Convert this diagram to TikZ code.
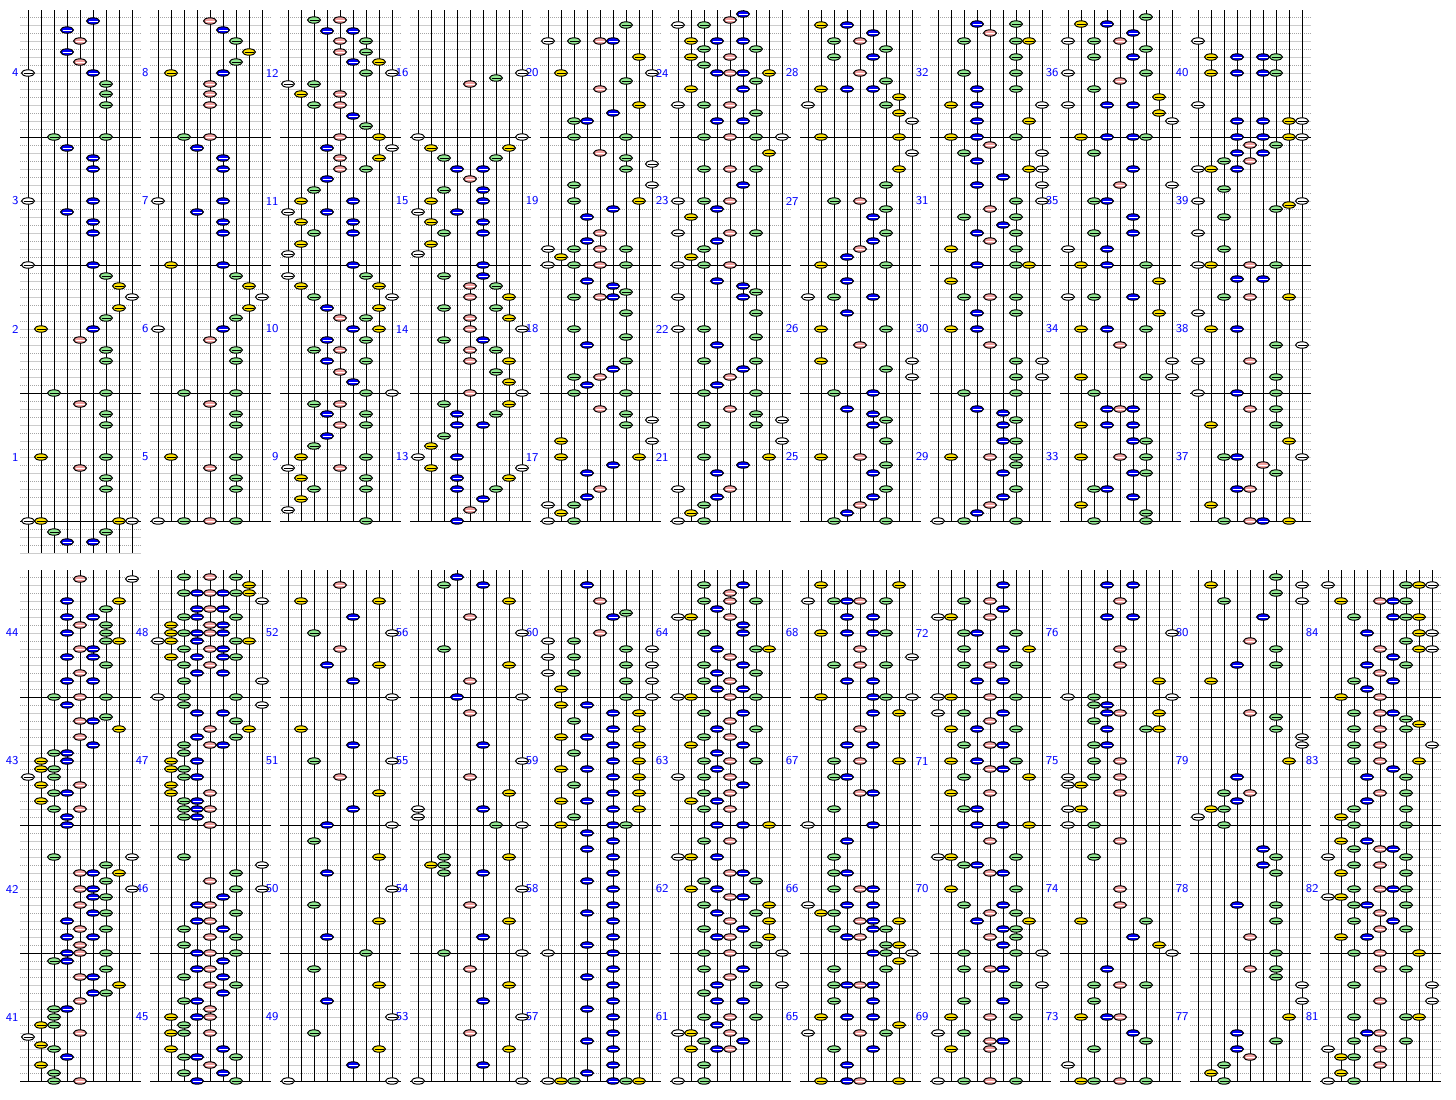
\documentclass[tikz,border=0pt]{standalone}
\usepackage{tikz}

\definecolor{nw}{RGB}{255,255,255}
\definecolor{ny}{RGB}{255,228,0}
\definecolor{ng}{RGB}{144,232,144}
\definecolor{np}{RGB}{244,160,160}
\definecolor{nb}{RGB}{0,0,255}
\definecolor{sw}{RGB}{0,0,0}
\definecolor{sy}{RGB}{0,0,0}
\definecolor{sg}{RGB}{0,0,0}
\definecolor{sp}{RGB}{255,255,255}
\definecolor{sb}{RGB}{255,255,255}

\tikzset{
  lane/.style={line width=0.5pt},
  beat/.style={gray!40, line width=0.5pt},
  half/.style={gray!70, line width=0.5pt, dash pattern=on 0.5pt off 0.5pt},
  bar/.style={line width=0.5pt},
  num/.style={text=blue, font=\sffamily\fontsize{6}{6}\selectfont, anchor=east, inner sep=0pt}
}

\newcommand{\hnote}[3]{
  \filldraw[fill=n#3, line width=0.5pt] (#1,#2) ellipse (6.5 and 3.2);
  \draw[s#3, line width=0.5pt] (#1-4.5,#2) -- (#1+4.5,#2);
}
\newcommand{\notes}[2]{
  \foreach \k/\y/\c in {#2} {\hnote{#1+8+13*\k}{\y}{\c}}
}
\newcommand{\staff}[3]{
  \foreach \j in {1,3,...,63} \draw[half] (#1,#2+8*\j) -- (#1+121,#2+8*\j);
  \foreach \j in {2,4,...,64} \draw[beat] (#1,#2+8*\j) -- (#1+121,#2+8*\j);
  \foreach \j in {16,32,48,64} \draw[bar] (#1,#2+8*\j) -- (#1+121,#2+8*\j);
  \foreach \k in {0,...,8} \draw[lane] (#1+8+13*\k,#2+1) -- (#1+8+13*\k,#3);
}

\begin{document}
\begin{tikzpicture}[x=0.5pt,y=-0.5pt]
\useasboundingbox (0,0) rectangle (1456,1099);

\foreach \c in {0,...,9} {
  \pgfmathsetmacro\xa{20+130*\c}
  \staff{\xa}{9}{521}
  \foreach \m in {1,...,4} {
    \pgfmathtruncatemacro\n{4*\c+\m}
    \node[num] (m\n) at (\xa-1,585-128*\m) {\n};
  }
}
\draw[half] (20,529) -- (141,529);
\draw[beat] (20,537) -- (141,537);
\draw[half] (20,545) -- (141,545);
\draw[beat] (20,553) -- (141,553);
\foreach \k in {0,...,8} \draw[lane] (28+13*\k,521) -- (28+13*\k,553);

\foreach \c in {0,...,10} {
  \pgfmathsetmacro\xa{20+130*\c}
  \staff{\xa}{569}{1081}
  \foreach \m in {1,...,4} {
    \pgfmathtruncatemacro\n{40+4*\c+\m}
    \node[num] (m\n) at (\xa-1,1145-128*\m) {\n};
  }
}

\notes{20}{5/21/b, 3/30/b, 4/41/p, 3/52/b, 4/62/p, 0/73/w, 5/73/b, 6/84/g, 6/94/g, 6/105/g,
  2/137/g, 6/137/g, 3/148/b, 5/158/b, 5/169/b, 0/201/w, 5/201/b, 3/212/b, 5/222/b, 5/233/b,
  0/265/w, 5/265/b, 6/276/g, 7/286/y, 8/297/w, 7/308/y, 6/318/g, 1/329/y, 5/329/b, 4/340/p,
  6/350/g, 6/361/g, 2/393/g, 6/393/g, 4/404/p, 6/414/g, 6/425/g, 1/457/y, 6/457/g, 4/468/p,
  6/478/g, 6/489/g, 0/521/w, 1/521/y, 7/521/y, 8/521/w, 2/532/g, 6/532/g, 3/542/b, 5/542/b}

\notes{150}{4/21/p, 5/30/b, 6/41/g, 7/52/y, 6/62/g, 1/73/y, 5/73/b, 4/84/p, 4/94/p, 4/105/p,
  2/137/g, 4/137/p, 3/148/b, 5/158/b, 5/169/b, 0/201/w, 5/201/b, 3/212/b, 5/222/b, 5/233/b,
  1/265/y, 5/265/b, 6/276/g, 7/286/y, 8/297/w, 7/308/y, 6/318/g, 0/329/w, 5/329/b, 4/340/p,
  6/350/g, 6/361/g, 2/393/g, 6/393/g, 4/404/p, 6/414/g, 6/425/g, 1/457/y, 6/457/g, 4/468/p,
  6/478/g, 6/489/g, 0/521/w, 2/521/g, 4/521/p, 6/521/g}

\notes{280}{2/20/g, 4/20/p, 3/31/b, 5/31/b, 4/41/p, 6/41/g, 4/52/p, 6/52/g, 5/62/b, 7/62/y,
  6/73/g, 8/73/w, 0/84/w, 2/84/g, 1/94/y, 4/94/p, 2/105/g, 4/105/p, 5/116/b, 6/126/g,
  4/137/p, 7/137/y, 8/148/w, 3/148/b, 4/158/p, 7/158/y, 4/169/p, 6/169/g, 3/179/b, 2/190/g,
  1/201/y, 5/201/b, 0/212/w, 3/212/b, 1/222/y, 5/222/b, 2/233/g, 5/233/b, 1/244/y, 0/254/w,
  5/265/b, 0/276/w, 6/276/g, 1/286/y, 7/286/y, 2/297/g, 8/297/w, 3/308/b, 7/308/y, 4/318/p,
  6/318/g, 5/329/b, 7/329/y, 3/340/b, 6/340/g, 2/350/g, 4/350/p, 3/361/b, 6/361/g, 4/372/p,
  5/382/b, 6/393/g, 8/393/w, 2/404/g, 4/404/p, 3/414/b, 6/414/g, 4/425/p, 6/425/g, 3/436/b,
  2/446/g, 1/457/y, 6/457/g, 0/468/w, 4/468/p, 1/478/y, 6/478/g, 2/489/g, 6/489/g, 1/499/y,
  0/510/w, 6/521/g}

\notes{410}{6/78/g, 8/73/w, 4/84/p, 0/137/w, 8/137/w, 1/148/y, 7/148/y, 2/158/g, 6/158/g, 3/169/b,
  5/169/b, 4/179/p, 2/190/g, 5/190/b, 1/201/y, 5/201/b, 0/212/w, 3/212/b, 1/222/y, 5/222/b,
  2/233/g, 5/233/b, 1/244/y, 0/254/w, 5/265/b, 2/276/g, 5/276/b, 4/286/p, 6/286/g, 4/297/p,
  7/297/y, 2/308/g, 6/308/g, 4/318/p, 7/318/y, 4/329/p, 8/329/w, 2/340/g, 5/340/b, 4/350/p,
  6/350/g, 4/361/p, 7/361/y, 6/372/g, 7/382/y, 4/393/p, 8/393/w, 2/404/g, 7/404/y, 3/414/b,
  6/414/g, 3/425/b, 5/425/b, 2/436/g, 1/446/y, 0/457/w, 3/457/b, 1/468/y, 8/468/w, 3/478/b,
  7/478/y, 3/489/b, 6/489/g, 5/499/b, 4/510/p, 3/521/b}

\notes{540}{6/25/g, 0/41/w, 2/41/g, 4/41/p, 5/41/b, 7/57/y, 1/73/y, 8/73/w, 6/81/g, 4/89/p,
  7/105/y, 5/113/b, 2/121/g, 3/121/b, 2/137/g, 6/137/g, 4/153/p, 6/158/g, 8/164/w, 6/169/g,
  2/185/g, 8/185/w, 2/201/g, 7/201/y, 5/209/b, 3/217/b, 4/233/p, 3/241/b, 0/249/w, 2/249/g,
  4/249/p, 6/249/g, 1/257/y, 0/265/w, 2/265/g, 4/265/p, 6/265/g, 3/281/b, 5/286/b, 6/292/g,
  2/297/g, 4/297/p, 5/297/b, 6/313/g, 2/329/g, 6/337/g, 3/345/b, 6/361/g, 5/369/b, 2/377/g,
  4/377/p, 3/385/b, 2/393/g, 6/393/g, 4/409/p, 6/414/g, 8/420/w, 6/425/g, 1/441/y, 8/441/w,
  1/457/y, 7/457/y, 5/465/b, 3/473/b, 4/489/p, 3/497/b, 0/505/w, 2/505/g, 1/513/y, 0/521/w,
  2/521/g}

\notes{670}{5/14/b, 4/20/p, 0/25/w, 2/25/g, 1/41/y, 3/41/b, 5/41/b, 2/49/g, 6/49/g, 1/57/y,
  4/57/p, 2/65/g, 3/73/b, 4/73/p, 5/73/b, 7/73/y, 6/81/g, 1/89/y, 5/89/b, 0/105/w,
  2/105/g, 4/105/p, 6/113/g, 3/121/b, 5/121/b, 2/137/g, 4/137/p, 6/137/g, 8/137/w, 7/153/y,
  2/169/g, 4/169/p, 6/169/g, 5/185/b, 0/201/w, 2/201/g, 4/201/p, 3/209/b, 1/217/y, 0/233/w,
  4/233/p, 6/233/g, 3/241/b, 2/249/g, 1/257/y, 0/265/w, 2/265/g, 4/265/p, 3/281/b, 5/286/b,
  6/292/g, 0/297/w, 5/297/b, 6/313/g, 0/329/w, 2/329/g, 6/337/g, 3/345/b, 2/361/g, 6/361/g,
  5/369/b, 4/377/p, 3/385/b, 2/393/g, 6/393/g, 4/409/p, 6/414/g, 8/420/w, 2/425/g, 6/425/g,
  8/441/w, 2/457/g, 7/457/y, 5/465/b, 3/473/b, 0/489/w, 4/489/p, 3/497/b, 2/505/g, 1/513/y,
  0/521/w, 2/521/g}

\notes{800}{1/25/y, 3/25/b, 5/33/b, 2/41/g, 4/41/p, 6/49/g, 2/57/g, 5/57/b, 4/73/p, 6/81/g,
  1/89/y, 3/89/b, 5/89/b, 7/97/y, 0/105/w, 6/105/g, 7/113/y, 8/121/w, 1/137/y, 7/137/y,
  8/153/w, 7/169/y, 6/185/g, 2/201/g, 4/201/p, 6/209/g, 5/217/b, 6/233/g, 5/241/b, 4/249/p,
  3/257/b, 1/265/y, 6/265/g, 3/281/b, 0/297/w, 2/297/g, 5/297/b, 3/313/b, 1/329/y, 6/329/g,
  4/345/p, 1/361/y, 8/361/w, 6/369/g, 8/377/w, 2/393/g, 5/393/b, 3/409/b, 5/414/b, 6/420/g,
  5/425/b, 6/441/g, 1/457/y, 4/457/p, 6/465/g, 5/473/b, 6/489/g, 5/497/b, 4/505/p, 3/513/b,
  2/521/g, 6/521/g}

\notes{930}{3/24/b, 6/24/g, 4/33/p, 2/41/g, 6/41/g, 7/41/y, 6/57/g, 2/73/g, 6/73/g, 3/89/b,
  6/89/g, 1/105/y, 3/105/b, 8/105/w, 3/121/b, 7/121/y, 1/137/y, 3/137/b, 6/137/g, 4/145/p,
  2/153/g, 8/153/w, 3/161/b, 7/169/y, 8/169/w, 5/177/b, 3/185/b, 8/185/w, 6/201/g, 8/201/w,
  4/209/p, 2/217/g, 6/217/g, 5/225/b, 3/233/b, 6/233/g, 4/241/p, 1/249/y, 6/249/g, 3/265/b,
  6/265/g, 7/265/y, 1/281/y, 2/297/g, 4/297/p, 6/297/g, 3/313/b, 6/313/g, 1/329/y, 3/329/b,
  4/345/p, 6/361/g, 8/361/w, 6/377/g, 8/377/w, 2/393/g, 6/393/g, 3/409/b, 5/413/b, 6/420/g,
  5/425/b, 5/441/b, 6/441/g, 1/457/y, 4/457/p, 6/457/g, 6/465/g, 5/473/b, 6/489/g, 5/497/b,
  4/505/p, 3/513/b, 0/521/w, 2/521/g, 6/521/g}

\notes{1060}{6/17/g, 1/24/y, 3/24/b, 5/33/b, 0/41/w, 2/41/g, 4/41/p, 6/49/g, 2/57/g, 5/57/b,
  0/73/w, 6/73/g, 4/81/p, 2/89/g, 7/97/y, 0/105/w, 3/105/b, 5/105/b, 7/113/y, 8/121/w,
  1/137/y, 3/137/b, 5/137/b, 6/137/g, 2/153/g, 5/169/b, 4/185/p, 8/185/w, 2/201/g, 3/201/b,
  5/217/b, 2/233/g, 5/233/b, 0/249/w, 3/249/b, 1/265/y, 3/265/b, 6/265/g, 7/281/y, 0/297/w,
  2/297/g, 5/297/b, 7/313/y, 1/329/y, 3/329/b, 6/329/g, 4/345/p, 8/361/w, 1/377/y, 6/377/g,
  8/377/w, 2/393/g, 3/409/b, 4/409/p, 5/409/b, 1/425/y, 3/425/b, 5/425/b, 5/441/b, 6/441/g,
  1/457/y, 4/457/p, 6/457/g, 5/473/b, 6/473/g, 2/489/g, 3/489/b, 5/497/b, 1/505/y, 6/513/g,
  2/521/g, 6/521/g}

\notes{1190}{0/41/w, 1/57/y, 3/57/b, 5/57/b, 6/57/g, 1/73/y, 3/73/b, 5/73/b, 6/73/g, 0/105/w,
  3/121/b, 5/121/b, 7/121/y, 8/121/w, 3/137/b, 5/137/b, 7/137/y, 8/137/w, 4/145/p, 6/145/g,
  3/153/b, 5/153/b, 2/161/g, 4/161/p, 0/169/w, 1/169/y, 3/169/b, 2/189/g, 0/201/w, 8/201/w,
  7/205/y, 6/209/g, 2/217/g, 0/233/w, 2/249/g, 0/265/w, 1/265/y, 4/265/p, 6/265/g, 3/279/b,
  5/279/b, 2/297/g, 4/297/p, 7/297/y, 0/313/w, 1/329/y, 3/329/b, 6/345/g, 8/345/w, 0/361/w,
  4/361/p, 6/377/g, 0/393/w, 3/393/b, 6/393/g, 4/409/p, 6/409/g, 1/425/y, 6/425/g, 7/441/y,
  2/457/g, 3/457/b, 8/457/w, 5/465/p, 6/473/g, 3/489/b, 4/489/p, 1/505/y, 2/521/g, 4/521/p,
  5/521/b, 7/521/y}

\notes{20}{4/579/p, 8/579/w, 3/601/b, 7/601/y, 6/609/g, 3/617/b, 5/617/b, 4/625/p, 6/625/g, 3/633/b,
  6/633/g, 6/641/g, 7/641/y, 4/649/p, 5/649/b, 3/657/b, 5/657/b, 6/665/g, 4/673/p, 3/681/b,
  5/681/b, 2/697/g, 4/697/p, 6/697/g, 3/705/b, 6/717/g, 4/721/p, 5/721/b, 7/729/y, 4/737/p,
  5/745/b, 2/753/g, 3/753/b, 1/761/y, 3/761/b, 0/777/w, 1/769/y, 2/769/g, 2/777/g, 1/785/y,
  4/785/p, 2/793/g, 3/793/b, 1/801/y, 2/809/g, 4/809/p, 3/817/b, 3/825/b, 2/857/g, 8/857/w,
  6/865/g, 4/873/p, 5/873/b, 7/873/y, 6/881/g, 4/889/p, 5/889/b, 8/889/w, 5/897/b, 6/897/g,
  4/905/p, 5/913/b, 6/913/g, 3/921/b, 4/929/p, 6/929/g, 3/937/b, 5/937/b, 4/945/p, 3/953/b,
  4/953/p, 6/953/g, 2/961/g, 3/961/b, 6/969/g, 4/977/p, 5/977/b, 7/985/y, 5/993/b, 6/993/g,
  4/1001/p, 2/1009/g, 3/1009/b, 2/1017/g, 1/1025/y, 2/1025/g, 4/1033/p, 0/1037/w, 1/1045/y, 2/1049/g,
  3/1057/b, 1/1065/y, 2/1073/g, 2/1081/g, 4/1081/p}

\notes{150}{2/577/g, 4/577/p, 6/577/g, 7/585/y, 2/593/g, 3/593/b, 4/593/p, 5/593/b, 6/593/g, 7/593/y,
  8/601/w, 3/609/b, 4/609/p, 5/609/b, 2/617/g, 3/617/b, 6/617/g, 1/625/y, 4/625/p, 5/625/b,
  1/633/y, 2/633/g, 3/633/b, 4/633/p, 5/633/b, 0/641/w, 1/641/y, 3/641/b, 6/641/g, 7/641/y,
  2/649/g, 4/649/p, 5/649/b, 1/657/y, 3/657/b, 5/657/b, 6/657/g, 2/665/g, 4/665/p, 3/673/b,
  5/673/b, 2/681/g, 8/681/w, 0/697/w, 2/697/g, 6/697/g, 2/705/g, 8/705/w, 3/713/b, 5/713/b,
  6/721/g, 4/729/p, 7/729/y, 3/737/b, 6/737/g, 2/745/g, 4/745/p, 5/745/b, 2/753/g, 1/761/y,
  3/761/b, 1/769/y, 2/769/g, 2/777/g, 3/777/b, 1/785/y, 1/793/y, 4/793/p, 2/801/g, 3/801/b,
  2/809/g, 3/809/b, 4/809/p, 2/817/g, 3/817/b, 4/825/p, 2/857/g, 8/865/w, 6/873/g, 4/881/p,
  6/889/g, 8/889/w, 5/897/b, 3/905/b, 4/905/p, 6/913/g, 3/921/b, 4/921/p, 2/929/g, 5/929/b,
  4/937/p, 6/937/g, 2/945/g, 3/953/b, 4/953/p, 6/953/g, 5/961/b, 3/969/b, 4/969/p, 2/977/g,
  5/977/b, 4/985/p, 6/985/g, 5/993/b, 2/1001/g, 3/1001/b, 4/1009/p, 1/1017/y, 3/1017/b, 4/1017/p,
  2/1025/g, 1/1033/y, 2/1033/g, 4/1033/p, 1/1049/y, 5/1049/b, 2/1057/g, 3/1057/b, 6/1057/g, 4/1065/p,
  2/1073/g, 5/1073/b, 3/1081/b, 6/1081/g}

\notes{280}{4/585/p, 1/601/y, 7/601/y, 5/617/b, 2/633/g, 8/633/w, 4/649/p, 3/665/b, 7/665/y, 5/681/b,
  8/697/w, 1/729/y, 5/745/b, 2/761/g, 8/761/w, 4/777/p, 7/793/y, 5/809/b, 3/825/b, 8/825/w,
  2/841/g, 7/857/y, 3/873/b, 8/889/w, 2/905/g, 7/921/y, 3/937/b, 6/953/g, 2/969/g, 7/985/y,
  3/1001/b, 8/1017/w, 2/1033/g, 7/1049/y, 5/1065/b, 0/1081/w, 8/1081/w}

\notes{410}{3/577/b, 2/585/g, 5/585/b, 7/601/y, 4/617/p, 8/633/w, 2/649/g, 7/665/y, 4/681/p, 3/697/b,
  8/697/w, 4/713/p, 5/745/b, 8/761/w, 4/777/p, 7/793/y, 0/809/w, 5/809/b, 0/817/w, 6/825/g,
  8/825/w, 2/857/g, 7/857/y, 1/865/y, 2/865/g, 2/873/g, 5/873/b, 8/889/w, 4/905/p, 7/921/y,
  5/937/b, 2/953/g, 8/953/w, 4/969/p, 7/985/y, 5/1001/b, 8/1017/w, 4/1033/p, 7/1049/y, 5/1065/b,
  0/1081/w, 8/1081/w}

\notes{540}{3/585/b, 4/601/p, 6/613/g, 5/617/b, 4/633/p, 0/641/w, 2/641/g, 6/649/g, 8/649/w, 0/657/w,
  2/657/g, 6/665/g, 8/665/w, 0/673/w, 2/673/g, 6/681/g, 8/681/w, 1/689/y, 6/697/g, 8/697/w,
  1/705/y, 3/705/b, 5/713/b, 7/713/y, 2/721/g, 5/729/b, 7/729/y, 1/737/y, 3/737/b, 5/745/b,
  7/745/y, 2/753/g, 5/761/b, 7/761/y, 1/769/y, 3/769/b, 5/777/b, 7/777/y, 2/785/g, 5/793/b,
  7/793/y, 1/801/y, 3/801/b, 5/809/b, 7/809/y, 2/817/g, 1/825/y, 5/825/b, 6/825/g, 3/833/b,
  5/841/b, 3/849/b, 5/857/b, 5/873/b, 3/881/b, 5/889/b, 5/905/b, 3/913/b, 5/921/b, 5/937/b,
  3/945/b, 0/953/w, 5/953/b, 5/969/b, 3/977/b, 5/985/b, 5/1001/b, 3/1009/b, 5/1017/b, 5/1033/b,
  3/1041/b, 5/1049/b, 5/1065/b, 3/1073/b, 0/1081/w, 1/1081/y, 2/1081/g, 5/1081/b, 6/1081/g, 7/1081/y}

\notes{670}{2/585/g, 5/585/b, 4/593/p, 2/601/g, 4/601/p, 6/601/g, 3/609/b, 0/617/w, 1/617/y, 4/617/p,
  5/625/b, 2/633/g, 5/633/b, 3/649/b, 6/649/g, 7/649/y, 4/657/p, 2/665/g, 5/665/b, 3/673/b,
  6/673/g, 2/681/g, 4/681/p, 3/689/b, 5/689/b, 0/697/w, 1/697/y, 4/697/p, 6/697/g, 2/713/g,
  5/713/b, 4/721/p, 3/729/b, 6/729/g, 2/737/g, 4/737/p, 1/745/y, 5/745/b, 3/753/b, 4/761/p,
  2/761/g, 6/761/g, 3/769/b, 0/777/w, 2/777/g, 4/777/p, 5/785/b, 2/793/g, 4/793/p, 1/801/y,
  3/801/b, 2/809/g, 4/809/p, 3/825/b, 5/825/b, 7/825/y, 2/841/g, 4/841/p, 0/857/w, 1/857/y,
  3/857/b, 4/873/p, 5/873/b, 2/881/g, 6/881/g, 1/889/y, 3/889/b, 4/897/p, 5/897/b, 2/905/g,
  7/905/y, 3/913/b, 6/913/g, 4/921/p, 7/921/y, 2/929/g, 5/929/b, 3/937/b, 4/937/p, 7/937/y,
  6/945/g, 2/953/g, 4/953/p, 8/953/w, 2/969/g, 5/969/b, 4/977/p, 3/985/b, 6/985/g, 8/985/w,
  2/993/g, 3/1001/b, 5/1001/b, 2/1017/g, 4/1017/p, 6/1017/g, 3/1025/b, 0/1033/w, 1/1033/y, 4/1033/p,
  2/1041/g, 5/1041/b, 1/1049/y, 3/1049/b, 4/1049/p, 2/1065/g, 0/1081/w, 2/1081/g}

\notes{800}{1/585/y, 7/585/y, 0/601/w, 2/601/g, 3/601/b, 4/601/p, 6/601/g, 3/617/b, 5/617/b, 1/633/y,
  3/633/b, 5/633/b, 6/633/g, 4/649/p, 8/657/w, 2/665/g, 4/665/p, 6/665/g, 3/681/b, 5/681/b,
  1/697/y, 5/697/b, 6/697/g, 8/697/w, 5/713/b, 7/713/y, 4/729/p, 3/745/b, 5/745/b, 2/761/g,
  4/761/p, 7/761/y, 2/777/g, 3/777/b, 4/793/p, 5/793/b, 2/809/g, 0/825/w, 5/825/b, 3/841/b,
  2/857/g, 2/873/g, 3/873/b, 2/889/g, 4/889/p, 5/889/b, 0/905/w, 3/905/b, 5/905/b, 1/913/y,
  2/913/g, 4/921/p, 5/921/b, 7/921/y, 2/929/g, 5/929/b, 6/929/g, 3/937/b, 4/937/p, 6/945/g,
  7/945/y, 5/953/b, 6/953/g, 8/953/w, 7/961/y, 2/969/g, 6/969/g, 2/985/g, 3/985/b, 4/985/p,
  5/985/b, 2/1001/g, 5/1001/b, 1/1017/y, 3/1017/b, 5/1017/b, 7/1025/y, 0/1033/w, 4/1033/p, 6/1033/g,
  2/1049/g, 5/1049/b, 3/1065/b, 1/1081/y, 3/1081/b, 4/1081/p, 7/1081/y}

\notes{930}{5/585/b, 2/601/g, 4/601/p, 5/609/b, 0/617/w, 1/617/y, 4/617/p, 2/633/g, 3/633/b, 6/633/g,
  2/649/g, 5/649/b, 7/649/y, 2/665/g, 4/665/p, 6/665/g, 3/681/b, 5/681/b, 0/697/w, 1/697/y,
  4/697/p, 6/697/g, 0/713/w, 2/713/g, 5/713/b, 4/721/p, 1/729/y, 3/729/b, 6/729/g, 2/745/g,
  4/745/p, 5/745/b, 1/761/y, 3/761/b, 6/761/g, 4/769/p, 5/769/b, 2/777/g, 7/777/y, 1/793/y,
  4/793/p, 2/809/g, 3/809/b, 3/825/b, 5/825/b, 7/825/y, 4/841/p, 0/857/w, 1/857/y, 6/857/g,
  2/865/g, 3/865/b, 4/873/p, 5/873/b, 1/889/y, 6/889/g, 2/905/g, 5/905/b, 4/913/p, 6/913/g,
  3/921/b, 7/921/y, 5/929/b, 6/929/g, 4/937/p, 6/937/g, 5/945/b, 2/953/g, 6/953/g, 8/953/w,
  2/969/g, 4/969/p, 5/969/b, 6/985/g, 8/985/w, 2/1001/g, 5/1001/b, 1/1017/y, 4/1017/p, 6/1017/g,
  0/1033/w, 2/1033/g, 4/1041/p, 5/1041/b, 1/1049/y, 4/1049/p, 0/1081/w, 2/1081/g, 4/1081/p, 6/1081/g}

\notes{1060}{3/585/b, 5/585/b, 4/601/p, 3/617/b, 5/617/b, 8/633/w, 4/649/p, 4/665/p, 7/681/y, 0/697/w,
  2/697/g, 8/697/w, 2/705/g, 3/705/b, 3/713/b, 4/713/p, 7/713/y, 2/721/g, 3/729/b, 6/729/g,
  7/729/y, 2/745/g, 3/745/b, 2/761/g, 4/761/p, 0/777/w, 2/777/g, 4/777/p, 0/785/w, 1/785/y,
  4/793/p, 0/809/w, 1/809/y, 0/825/w, 2/825/g, 4/841/p, 2/857/g, 4/889/p, 4/905/p, 1/921/y,
  6/921/g, 5/937/b, 7/945/y, 8/953/w, 3/969/b, 2/985/g, 4/985/p, 6/985/g, 2/1001/g, 1/1017/y,
  3/1017/b, 4/1017/p, 5/1033/b, 6/1041/g, 2/1049/g, 0/1065/w, 1/1081/y, 2/1081/g, 4/1081/p, 6/1081/g}

\notes{1190}{6/577/g, 1/585/y, 8/585/w, 6/593/g, 2/601/g, 8/601/w, 5/617/b, 4/641/p, 6/649/g, 3/665/b,
  6/665/g, 1/681/y, 4/713/p, 6/717/g, 6/729/g, 8/737/w, 8/745/w, 7/761/y, 3/777/b, 2/793/g,
  4/793/p, 3/801/b, 1/809/y, 2/809/g, 0/817/w, 2/825/g, 5/849/b, 6/857/g, 5/865/b, 6/873/g,
  3/905/b, 6/905/g, 6/921/g, 4/937/p, 6/953/g, 4/969/p, 6/969/g, 6/977/g, 8/985/w, 8/1001/w,
  7/1017/y, 3/1033/b, 6/1041/g, 3/1049/b, 4/1057/p, 2/1065/g, 1/1073/y, 2/1081/g}

\notes{1320}{0/585/w, 6/585/g, 7/585/y, 8/585/w, 1/601/y, 4/601/p, 5/601/b, 6/601/g, 2/617/g, 5/617/b,
  6/617/g, 7/617/y, 3/633/b, 7/633/y, 8/633/w, 6/641/g, 4/649/p, 7/649/y, 8/649/w, 5/657/b,
  3/665/b, 6/665/g, 4/673/p, 2/681/g, 5/681/b, 3/689/b, 1/697/y, 4/697/p, 2/713/g, 4/713/p,
  5/713/b, 6/719/g, 7/724/y, 2/729/g, 4/729/p, 6/729/g, 2/745/g, 4/745/p, 8/745/w, 2/761/g,
  4/761/p, 7/761/y, 5/769/b, 3/777/b, 6/777/g, 4/793/p, 6/793/g, 3/801/b, 2/809/g, 6/809/g,
  1/817/y, 2/825/g, 6/825/g, 1/841/y, 3/841/b, 2/849/g, 4/849/p, 5/849/b, 0/857/w, 6/857/g,
  2/865/g, 4/865/p, 1/873/y, 6/873/g, 2/889/g, 4/889/p, 5/889/b, 6/889/g, 0/897/w, 1/897/y,
  2/905/g, 3/905/b, 6/905/g, 4/913/p, 2/921/g, 5/921/b, 4/929/p, 6/929/g, 1/937/y, 3/937/b,
  2/953/g, 4/953/p, 7/953/y, 4/969/p, 6/969/g, 2/985/g, 8/985/w, 4/1001/p, 8/1001/w, 2/1017/g,
  6/1017/g, 7/1017/y, 3/1033/b, 4/1033/p, 2/1041/g, 6/1041/g, 0/1049/w, 4/1049/p, 1/1057/y, 2/1057/g,
  4/1065/p, 1/1073/y, 0/1081/w, 2/1081/g}

\end{tikzpicture}
\end{document}
